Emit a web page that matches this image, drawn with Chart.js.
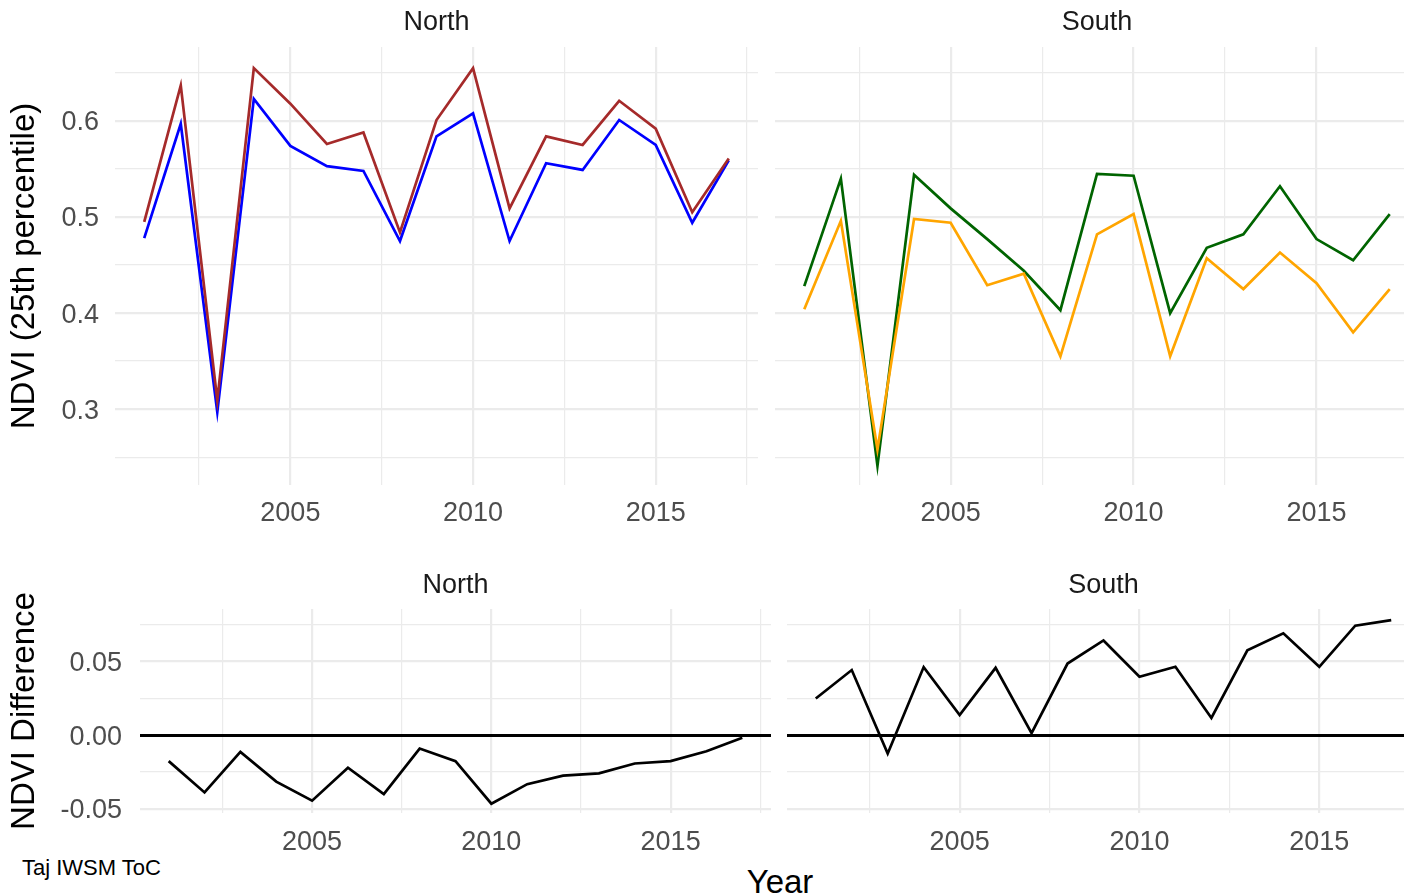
<!DOCTYPE html>
<html>
<head>
<meta charset="utf-8">
<script src="https://cdn.jsdelivr.net/npm/chart.js@4.4.1/dist/chart.umd.min.js"></script>
<style>
body{margin:0;width:1404px;height:895px;overflow:hidden;background:#fff;position:relative;font-family:"Liberation Sans",Arial,sans-serif;}
canvas{position:absolute;}
#xlab{position:absolute;left:680px;width:200px;top:865px;text-align:center;font-size:33px;line-height:33px;color:#000;z-index:2;}
#cap{position:absolute;left:22px;top:857px;font-size:22px;line-height:22px;color:#000;z-index:2;}
</style>
</head>
<body>
<canvas id="nTop" width="770" height="545" style="left:0;top:0"></canvas>
<canvas id="sTop" width="680" height="545" style="left:760px;top:0"></canvas>
<canvas id="nDiff" width="780" height="290" style="left:0;top:560px"></canvas>
<canvas id="sDiff" width="670" height="290" style="left:770px;top:560px"></canvas>
<div id="xlab">Year</div>
<div id="cap">Taj IWSM ToC</div>
<script>
//データ
var YEARS = [2001,2002,2003,2004,2005,2006,2007,2008,2009,2010,2011,2012,2013,2014,2015,2016,2017];
var N_BROWN = [0.495,0.637,0.309,0.655,0.618,0.576,0.588,0.484,0.601,0.655,0.509,0.584,0.575,0.621,0.592,0.505,0.561];
var N_BLUE = [0.478,0.597,0.297,0.623,0.574,0.553,0.548,0.475,0.584,0.608,0.475,0.556,0.549,0.601,0.575,0.494,0.559];
var S_GREEN = [0.428,0.540,0.241,0.544,0.509,0.477,0.444,0.403,0.545,0.543,0.400,0.468,0.482,0.532,0.477,0.455,0.503];
var S_ORANGE = [0.404,0.496,0.258,0.498,0.494,0.429,0.441,0.355,0.482,0.503,0.355,0.457,0.425,0.463,0.431,0.380,0.425];
var N_DIFF = [-0.0176,-0.0388,-0.0114,-0.0315,-0.0444,-0.0221,-0.0399,-0.0091,-0.0176,-0.0464,-0.0332,-0.0274,-0.0259,-0.0192,-0.0176,-0.0109,-0.0018];
var S_DIFF = [0.0248,0.0440,-0.0125,0.0460,0.0136,0.0455,0.0013,0.0484,0.0640,0.0395,0.0462,0.0116,0.0573,0.0689,0.0462,0.0740,0.0778];

//軸
var X_RANGE = [2000.2, 2017.8];
var X_TICKS = [2002.5,2005,2007.5,2010,2012.5,2015,2017.5];
var X_LABELS = ['','2005','','2010','','2015',''];
var Y_TOP_RANGE = [0.221, 0.677];
var Y_TOP_TICKS = [0.25,0.3,0.35,0.4,0.45,0.5,0.55,0.6,0.65];
var Y_TOP_LABELS = ['','0.3','','0.4','','0.5','','0.6',''];
var Y_DIFF_RANGE = [-0.0527, 0.0853];
var Y_DIFF_TICKS = [-0.05,-0.025,0,0.025,0.05,0.075];
var Y_DIFF_LABELS = ['-0.05','','0.00','','0.05',''];

var FONT = "'Liberation Sans', Arial, sans-serif";
var GRID = '#EBEBEB';

//パネル1枚を描く
function Panel(id, o){
  var sets = o.sets.map(function(s){
    return {
      data: YEARS.map(function(y,i){ return {x:y, y:s.vals[i]}; }),
      borderColor: s.col, borderWidth: 2.7, pointRadius: 0, fill: false, tension: 0
    };
  });
  new Chart(document.getElementById(id), {
    type: 'line',
    data: {datasets: sets},
    options: {
      responsive: false, animation: false,
      layout: {padding: {left:0, top:0, bottom:0, right:o.padR}},
      plugins: {
        legend: {display:false}, tooltip: {enabled:false},
        title: {display:true, text:o.title, fullSize:false, color:'#1A1A1A',
          font:{family:FONT, size:27, weight:'normal'}, padding:{top:o.tTop, bottom:o.tBot}}
      },
      scales: {
        x: {
          type:'linear', min:X_RANGE[0], max:X_RANGE[1], bounds:'data',
          afterBuildTicks: function(s){ s.ticks = X_TICKS.map(function(v){ return {value:v}; }); },
          afterFit: function(s){ s.height = o.xH; },
          ticks: {autoSkip:false, maxRotation:0, padding:o.xPad, color:'#4D4D4D',
            font:{family:FONT, size:27}, callback:function(v,i){ return X_LABELS[i]; }},
          grid: {drawTicks:false, color:GRID, z:-1,
            lineWidth:function(c){ return X_LABELS[c.index] ? 2.2 : 1.2; }},
          border: {display:false}
        },
        y: {
          type:'linear', min:o.yRange[0], max:o.yRange[1], bounds:'data',
          afterBuildTicks: function(s){ s.ticks = o.yTicks.map(function(v){ return {value:v}; }); },
          afterFit: function(s){ s.width = o.yW; },
          ticks: {display:o.showY, autoSkip:false, padding:o.yPad, labelOffset:2, color:'#4D4D4D',
            font:{family:FONT, size:27}, callback:function(v,i){ return o.yLabels[i]; }},
          title: {display:!!o.yTitle, text:o.yTitle || '', color:'#000',
            font:{family:FONT, size:33}, padding:{top:5, bottom:0}},
          grid: {drawTicks:false,
            color:function(c){ return (o.zeroLine && c.tick && c.tick.value === 0) ? '#000' : GRID; },
            lineWidth:function(c){
              if (o.zeroLine && c.tick && c.tick.value === 0) return 3;
              return o.yLabels[c.index] ? 2.2 : 1.2;
            }},
          border: {display:false}
        }
      }
    }
  });
}

Panel('nTop', {title:'North', sets:[{vals:N_BROWN, col:'#A52A2A'},{vals:N_BLUE, col:'#0000FF'}],
  yRange:Y_TOP_RANGE, yTicks:Y_TOP_TICKS, yLabels:Y_TOP_LABELS, showY:true, yW:115, yPad:16,
  yTitle:'NDVI (25th percentile)', padR:12, tTop:6.8, tBot:7.8, xH:60, xPad:12});
Panel('sTop', {title:'South', sets:[{vals:S_ORANGE, col:'#FFA500'},{vals:S_GREEN, col:'#006400'}],
  yRange:Y_TOP_RANGE, yTicks:Y_TOP_TICKS, yLabels:Y_TOP_LABELS, showY:false, yW:15, yPad:0,
  padR:21, tTop:6.8, tBot:7.8, xH:60, xPad:12});
Panel('nDiff', {title:'North', sets:[{vals:N_DIFF, col:'#000000'}],
  yRange:Y_DIFF_RANGE, yTicks:Y_DIFF_TICKS, yLabels:Y_DIFF_LABELS, showY:true, yW:140, yPad:18,
  yTitle:'NDVI Difference', zeroLine:true, padR:9, tTop:9.8, tBot:6.8, xH:37, xPad:13});
Panel('sDiff', {title:'South', sets:[{vals:S_DIFF, col:'#000000'}],
  yRange:Y_DIFF_RANGE, yTicks:Y_DIFF_TICKS, yLabels:Y_DIFF_LABELS, showY:false, yW:17, yPad:0,
  zeroLine:true, padR:20, tTop:9.8, tBot:6.8, xH:37, xPad:13});
</script>
</body>
</html>
